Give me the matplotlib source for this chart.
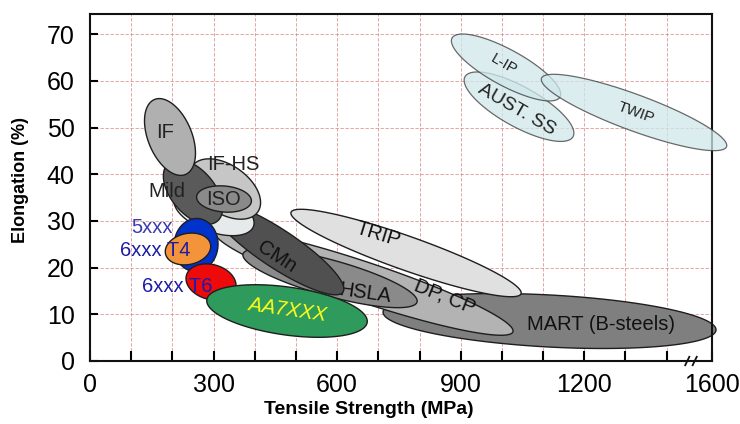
"""Global formability map: elongation vs tensile strength for steel and aluminium grades."""

import matplotlib

matplotlib.use("Agg")
import matplotlib.pyplot as plt
import numpy as np
from matplotlib.patches import Polygon

# Each region is an ellipse: centre (MPa, %), end of its long axis (MPa, %),
# and the short/long axis ratio measured on the page.
grades = ["MART (B-steels)", "DP, CP", "TRIP", "HSLA", "CMn", "BH", "IF-HS", "Mild", "ISO", "IF",
          "5xxx", "6xxx T4", "6xxx T6", "AA7XXX", "AUST. SS", "L-IP", "TWIP"]
center_ts = [1115.6, 665.2, 767.2, 582.7, 455.2, 301.0, 327.7, 250.1, 325.3, 194.2,
             257.3, 237.9, 293.8, 478.3, 1041.5, 1010.0, 1320.7]
center_el = [8.57, 16.93, 23.14, 17.78, 24.10, 31.93, 36.85, 36.21, 34.71, 48.00,
             24.86, 24.00, 16.93, 10.71, 54.49, 62.89, 53.25]
tip_ts = [1519.8, 1026.7, 1046.4, 793.9, 614.2, 396.9, 407.4, 309.3, 391.8, 156.6,
          251.8, 292.5, 353.5, 673.0, 1172.6, 1141.0, 1545.3]
tip_el = [6.64, 6.26, 14.42, 12.64, 14.78, 28.84, 31.95, 29.98, 34.20, 56.03,
          19.20, 25.03, 15.51, 8.29, 48.06, 56.57, 45.92]
axis_ratio = [0.156, 0.127, 0.139, 0.20, 0.242, 0.476, 0.60, 0.58, 0.473, 0.54,
              0.83, 0.674, 0.686, 0.296, 0.324, 0.293, 0.183]
fills = ["#7f7f7f", "#b3b3b3", "#e0e0e0", "#8a8a8a", "#505050", "#e6eaeb", "#c6c6c6", "#5a5a5a",
         "#8a8a8a", "#b0b0b0", "#0033cc", "#f4943a", "#ee0a0a", "#2e9a5c", "#cfe8ea", "#cfe8ea", "#cfe8ea"]

x_ticks = [0, 300, 600, 900, 1200, 1510]
x_ticklabels = ["0", "300", "600", "900", "1200", "1600"]
y_ticks = [0, 10, 20, 30, 40, 50, 60, 70]

# label text, x (MPa), y (%), rotation, size, colour, style
labels = [
    ("IF", 182, 48.9, 0, 14.5, "#222222", "normal"),
    ("IF-HS", 347, 42.2, 0, 14.5, "#222222", "normal"),
    ("Mild", 185.7, 36.3, 0, 14.5, "#222222", "normal"),
    ("ISO", 325.3, 34.5, 0, 14.5, "#222222", "normal"),
    ("5xxx", 150.5, 28.5, 0, 14.5, "#3a3ab0", "normal"),
    ("6xxx T4", 157.8, 23.6, 0, 14.5, "#1c1ca8", "normal"),
    ("6xxx T6", 211.2, 15.9, 0, 14.5, "#1c1ca8", "normal"),
    ("CMn", 454, 22.3, -33, 14.5, "#111111", "normal"),
    ("TRIP", 699.2, 27.2, -17, 14.5, "#111111", "normal"),
    ("DP, CP", 862, 13.9, -22, 14.5, "#111111", "normal"),
    ("HSLA", 667.6, 14.6, -8, 14.5, "#111111", "normal"),
    ("MART (B-steels)", 1240.6, 7.9, 0, 14.5, "#111111", "normal"),
    ("AA7XXX", 478.3, 10.9, -8, 14.5, "#ffff1a", "italic"),
    ("L-IP", 1005, 63.6, -30, 11, "#222222", "normal"),
    ("AUST. SS", 1036.6, 53.8, -30, 14, "#222222", "normal"),
    ("TWIP", 1325.6, 53.1, -20, 11, "#222222", "normal"),
]
# which region each label is stacked with
label_owner = [9, 6, 7, 8, 10, 11, 12, 4, 2, 2, 3, 0, 13, 15, 14, 16]

plt.rcParams["font.family"] = ["Liberation Sans", "DejaVu Sans"]


def ellipse_points(ax, cx, cy, tx, ty, ratio, n=180):
    """Ellipse outline in data coords, shaped in display space so it keeps its look."""
    tr = ax.transData
    c = tr.transform((cx, cy))
    u = tr.transform((tx, ty)) - c
    v = np.array([-u[1], u[0]]) * ratio
    s = np.linspace(0, 2 * np.pi, n)
    pts = c + np.outer(np.cos(s), u) + np.outer(np.sin(s), v)
    return tr.inverted().transform(pts)


fig = plt.figure(figsize=(7.4, 4.24), dpi=100)
ax = fig.add_axes([90 / 740, 1 - 361 / 424, 622 / 740, 347 / 424])
ax.set_xlim(0, 1510)
ax.set_ylim(0, 74.35)

light = {14, 15, 16}
for k in range(len(grades)):
    pts = ellipse_points(ax, center_ts[k], center_el[k], tip_ts[k], tip_el[k], axis_ratio[k])
    if k in light:
        patch = Polygon(pts, closed=True, facecolor=fills[k], alpha=0.75, edgecolor="#3a3a3a",
                        lw=0.9, zorder=2 + k * 0.1, clip_on=False)
    else:
        patch = Polygon(pts, closed=True, facecolor=fills[k], edgecolor="#1e1e1e",
                        lw=1.0, zorder=2 + k * 0.1, clip_on=False)
    ax.add_patch(patch)

for (txt, x, y, rot, size, col, style), owner in zip(labels, label_owner):
    ax.text(x, y, txt, rotation=rot, fontsize=size, color=col, style=style,
            ha="center", va="center", rotation_mode="anchor", zorder=2 + owner * 0.1 + 0.05)

ax.set_xticks(x_ticks)
ax.set_xticklabels(x_ticklabels)
ax.set_xticks(np.arange(100, 1500, 100), minor=True)
ax.set_yticks(y_ticks)
ax.tick_params(axis="both", which="both", direction="in", width=1.5, labelsize=18)
ax.tick_params(axis="x", which="major", length=7, pad=9)
ax.tick_params(axis="x", which="minor", length=7)
ax.tick_params(axis="y", which="major", length=6, pad=11)
ax.grid(True, which="both", color="#d97a7a", ls=(0, (4, 2)), lw=0.6, alpha=0.8, zorder=0)
ax.set_axisbelow(True)
for sp in ax.spines.values():
    sp.set_linewidth(1.5)
    sp.set_color("#111111")

# axis break marks on the strength axis
for xb in (1450, 1468):
    ax.plot([xb - 5, xb + 5], [-0.9, 0.9], color="#111111", lw=1.3, clip_on=False, zorder=6)

ax.set_xlabel("Tensile Strength (MPa)", fontsize=14, fontweight="bold")
ax.xaxis.set_label_coords(0.4476, -0.114)
ax.set_ylabel("Elongation (%)", fontsize=13, fontweight="bold")
ax.yaxis.set_label_coords(-0.0973, 0.5216)

fig.savefig("out.png", dpi=100)
